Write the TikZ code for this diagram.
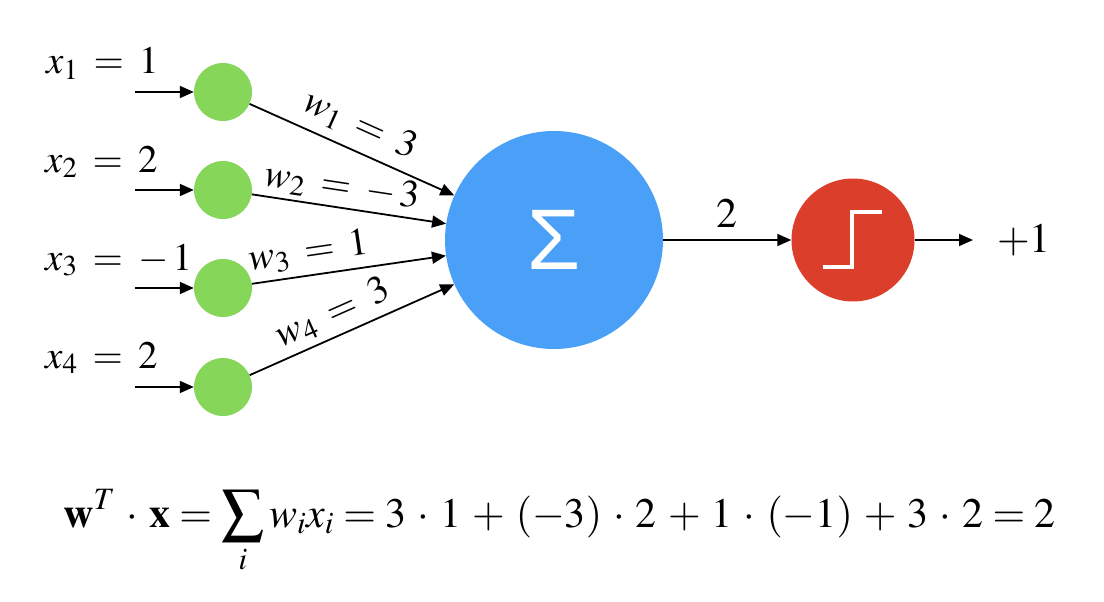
\documentclass[tikz,border=0pt]{standalone}
\usepackage{mathptmx}
\usepackage[no-math]{fontspec}
\newfontfamily\sigmafont{Liberation Sans}
\usetikzlibrary{arrows.meta}
\definecolor{ingreen}{RGB}{133,214,89}
\definecolor{sumblue}{RGB}{74,159,247}
\definecolor{stepred}{RGB}{219,62,42}
\newcommand\lblfont{\fontsize{39}{44}\selectfont\thickmuskip=7mu\relax}
\newcommand\formfont{\fontsize{42}{48}\selectfont\medmuskip=4.75mu\relax}
\tikzset{
  inode/.style={circle, fill=ingreen, minimum size=58pt, inner sep=0pt},
  sumnode/.style={circle, fill=sumblue, minimum size=218pt, inner sep=0pt, text=white},
  actnode/.style={circle, fill=stepred, minimum size=123pt, inner sep=0pt},
  arr/.style={line width=1.8pt, -{Triangle[length=14pt,width=12pt]}},
  lbl/.style={inner sep=0pt, font=\lblfont},
  wlbl/.style={inner sep=0pt, font=\lblfont, sloped},
  big/.style={inner sep=0pt, font=\fontsize{42}{48}\selectfont},
  formula/.style={inner sep=0pt, font=\formfont},
}
\begin{document}
\begin{tikzpicture}[x=1pt, y=-1pt]
\useasboundingbox (0,0) rectangle (1104,602);
% input nodes
\node[inode] (g1) at (223,92) {};
\node[inode] (g2) at (223,190) {};
\node[inode] (g3) at (223,288) {};
\node[inode] (g4) at (223,387) {};
\coordinate (i1) at (135,92);
\coordinate (i2) at (135,190);
\coordinate (i3) at (135,288);
\coordinate (i4) at (135,387);
% input labels
\node[lbl, anchor=base west] (l1) at (46,74) {$x_1 = 1$};
\node[lbl, anchor=base west] (l2) at (45,172) {$x_2 = 2$};
\node[lbl, anchor=base west] (l3) at (45,270) {$x_3 = -\,1$};
\node[lbl, anchor=base west] (l4) at (45,368) {$x_4 = 2$};
\draw[arr] (i1) -- (g1);
\draw[arr] (i2) -- (g2);
\draw[arr] (i3) -- (g3);
\draw[arr] (i4) -- (g4);
% sum node
\node[sumnode] (s) at (554,240) {\sigmafont\fontsize{86}{86}\selectfont Σ};
% weighted connections
\draw[arr] (g1) -- node[wlbl, pos=0.49, above=9pt] {$w_1 = 3$} (s);
\draw[arr] (g2) -- node[wlbl, pos=0.45, above=4pt] {$w_2 = -\,3$} (s);
\draw[arr] (g3) -- node[wlbl, pos=0.31, above=6pt] {$w_3 = 1$} (s);
\draw[arr] (g4) -- node[wlbl, pos=0.45, above=6pt] {$w_4 = 3$} (s);
% activation
\node[actnode] (a) at (853,240) {};
\draw[white, line width=4pt, line cap=butt, line join=miter, shift={(a.center)}]
  (-30,27) -- (-1,27) -- (-1,-28) -- (29,-28);
\draw[arr] (s) -- node[big, midway, above=12pt] {$2$} (a);
\coordinate (o) at (973,240);
\draw[arr] (a) -- (o);
\node[big, anchor=base] (out) at (1024,252) {$+1$};
% formula
\node[formula, anchor=base west] (f) at (63,527)
  {$\displaystyle \mathbf{w}^T\cdot\mathbf{x}=\sum_i w_ix_i=3\cdot1+(-3)\cdot2+1\cdot(-1)+3\cdot2=2$};
\end{tikzpicture}
\end{document}
